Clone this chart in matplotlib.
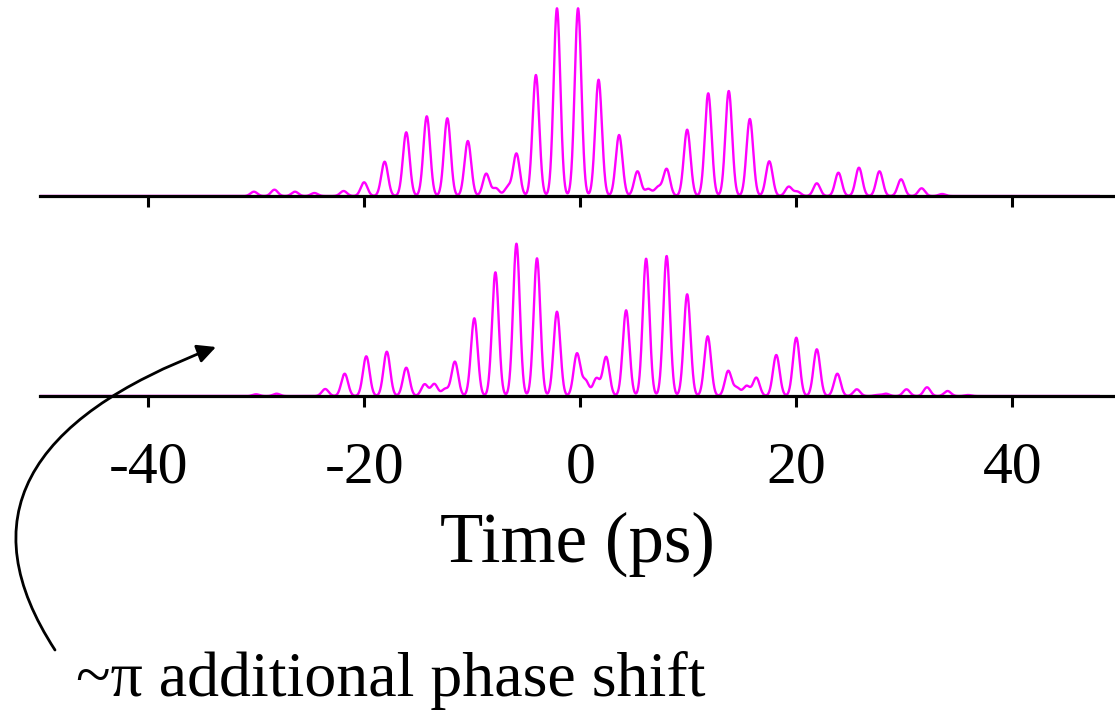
import numpy as np
import matplotlib
matplotlib.use("Agg")
import matplotlib.pyplot as plt
from matplotlib.patches import FancyArrowPatch
from matplotlib.path import Path

plt.rcParams['font.family'] = ['Liberation Serif', 'DejaVu Serif']

# peak positions (ps) and heights (a.u.)
top_t = [-30.2, -28.3, -26.4, -24.6, -21.9, -20.0, -18.1, -16.1, -14.2, -12.3,
         -10.4, -8.7, -7.8, -6.7, -5.9, -4.1, -2.15, -0.2, 1.7, 3.6,
         5.3, 6.3, 7.2, 8.0, 9.9, 11.85, 13.75, 15.7, 17.5, 19.3,
         20.1, 21.9, 23.9, 25.8, 27.7, 29.7, 31.6, 33.5]
top_h = [4.3, 6.3, 4.3, 3.0, 5.0, 13.7, 34.3, 63.7, 79.7, 77.7,
         55.0, 22.3, 7.7, 8.7, 42.3, 121.0, 187.7, 187.7, 116.3, 61.0,
         24.7, 7.0, 8.7, 27.0, 66.3, 102.7, 105.0, 77.0, 34.7, 9.3,
         4.3, 12.7, 23.3, 28.3, 24.7, 16.7, 7.7, 2.0]

bot_t = [-30.0, -28.1, -23.6, -21.8, -19.8, -17.9, -16.1, -14.4, -13.5, -12.5,
         -11.6, -9.8, -7.85, -5.9, -4.0, -2.15, -0.3, 0.5, 1.5, 2.4,
         4.25, 6.1, 8.0, 9.9, 11.8, 13.7, 14.5, 15.4, 16.3, 18.15,
         20.0, 21.9, 23.8, 25.6, 27.5, 28.3, 30.2, 32.1, 34.0, 35.9]
bot_h = [1.7, 2.3, 7.0, 22.3, 39.7, 44.3, 28.3, 11.7, 12.0, 7.0,
         34.3, 77.7, 123.7, 152.3, 137.7, 84.3, 42.3, 15.0, 17.5, 39.0,
         85.7, 137.3, 140.0, 101.7, 59.7, 25.0, 8.0, 10.0, 18.3, 41.0,
         58.3, 46.7, 22.3, 6.7, 1.0, 2.3, 6.7, 8.7, 5.0, 1.0]

ticks = [-40, -20, 0, 20, 40]

t = np.linspace(-50, 48, 6000)
width = 0.31


def trace(pos, amp):
    y = np.zeros_like(t)
    for p, a in zip(pos, amp):
        y += a * np.exp(-(t - p) ** 2 / (2 * width ** 2))
    return y


W, H = 1115, 712
fig = plt.figure(figsize=(W / 100, H / 100), dpi=100)

left = 40 / W
wid = 1 - left
ax_top = fig.add_axes([left, (H - 196) / H, wid, 190 / H])
ax_bot = fig.add_axes([left, (H - 396) / H, wid, 190 / H])

for ax, (pos, amp) in [(ax_top, (top_t, top_h)), (ax_bot, (bot_t, bot_h))]:
    ax.plot(t, trace(pos, amp), color='#ff00ff', lw=1.7, zorder=2)
    ax.set_xlim(-50, 49.5)
    ax.set_ylim(0, 190)
    for s in ['top', 'right', 'left']:
        ax.spines[s].set_visible(False)
    ax.spines['bottom'].set_linewidth(2.3)
    ax.spines['bottom'].set_zorder(3)
    ax.set_yticks([])
    ax.set_xticks(ticks)
    ax.tick_params(axis='x', direction='out', length=8, width=2.2,
                   labelsize=43, pad=25)
    ax.set_facecolor('none')

ax_top.tick_params(labelbottom=False)
ax_bot.set_xticklabels([str(v) for v in ticks])
ax_bot.set_xlabel('Time (ps)', fontsize=51, labelpad=11)

fig.text(76 / W, (H - 696) / H, '~π additional phase shift', fontsize=46,
         ha='left', va='baseline')

# curved arrow
p0 = (55, H - 650)
c = (-72, H - 455)
p2 = (216, H - 347)
path = Path([p0, c, p2], [Path.MOVETO, Path.CURVE3, Path.CURVE3])
arrow = FancyArrowPatch(path=path, arrowstyle='-|>', mutation_scale=28,
                        color='black', lw=2, transform=None)
fig.patches.append(arrow)

fig.savefig('out.png', dpi=100)
